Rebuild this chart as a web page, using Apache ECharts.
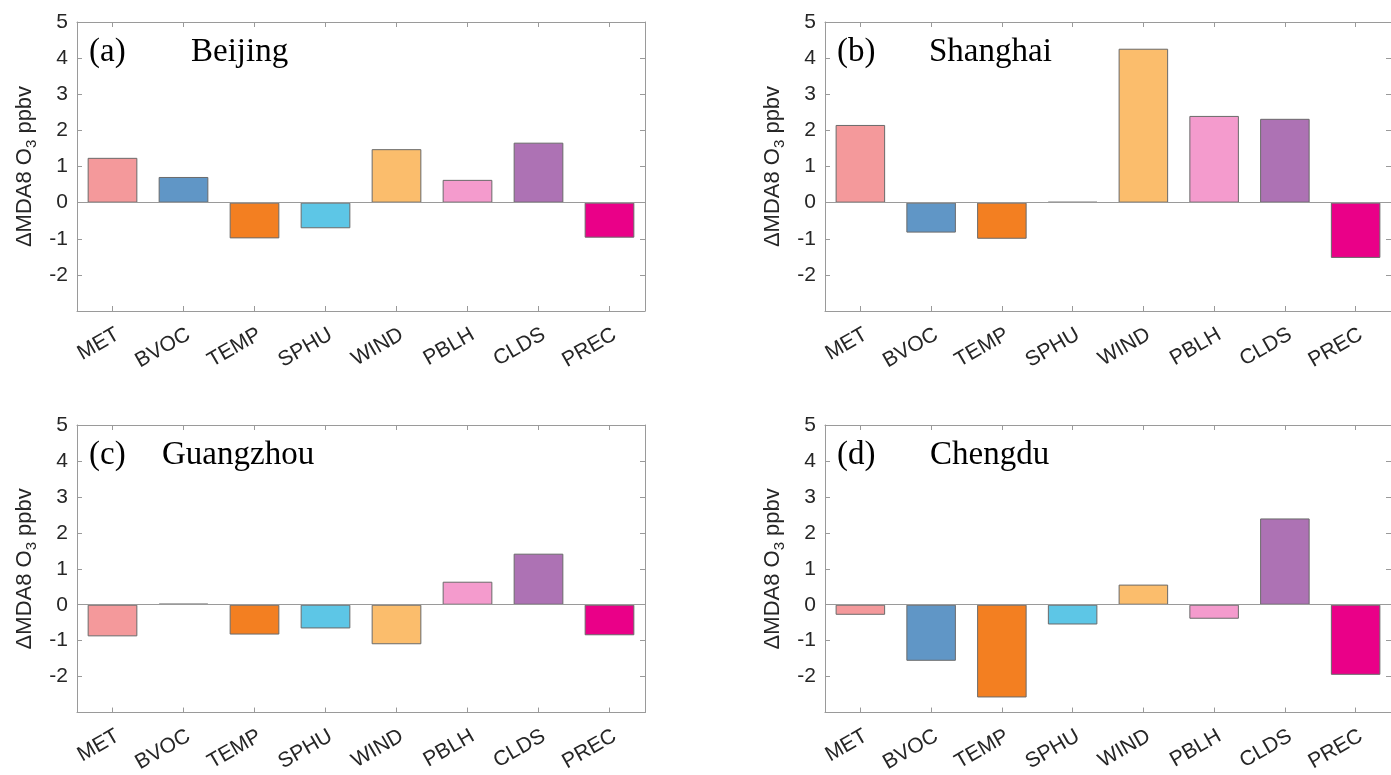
<!DOCTYPE html>
<html>
<head>
<meta charset="utf-8">
<script src="https://cdn.jsdelivr.net/npm/echarts@6/dist/echarts.min.js"></script>
<style>
  html, body { margin: 0; padding: 0; background: #fff; }
  #main { width: 1391px; height: 775px; }
</style>
</head>
<body>
<div id="main"></div>
<script>
// 数据
var categories = ['MET', 'BVOC', 'TEMP', 'SPHU', 'WIND', 'PBLH', 'CLDS', 'PREC'];
var barColors = ['#F4999B', '#6096C6', '#F37F21', '#5DC6E6', '#FBBD6C', '#F49BCD', '#AD72B4', '#EA0088'];

var beijing   = [1.24, 0.71, -0.99, -0.71, 1.48, 0.63, 1.66, -0.97];
var shanghai  = [2.15, -0.83, -1.00, 0.02, 4.26, 2.40, 2.32, -1.53];
var guangzhou = [-0.88, 0.03, -0.83, -0.66, -1.10, 0.64, 1.42, -0.85];
var chengdu   = [-0.28, -1.56, -2.58, -0.55, 0.56, -0.39, 2.40, -1.95];

var yTicks = [-3, -2, -1, 0, 1, 2, 3, 4, 5];

var panels = [
    { tag: '(a)', city: 'Beijing',   values: beijing },
    { tag: '(b)', city: 'Shanghai',  values: shanghai },
    { tag: '(c)', city: 'Guangzhou', values: guangzhou },
    { tag: '(d)', city: 'Chengdu',   values: chengdu }
];

// 布局
var gridPos = [
    { left: 77,  top: 22,  width: 568, height: 289 },
    { left: 825, top: 22,  width: 568, height: 289 },
    { left: 77,  top: 425, width: 568, height: 289 },
    { left: 825, top: 425, width: 568, height: 289 }
];
var tagPos  = [[89, 36], [837, 36], [89, 439], [837, 439]];
var cityPos = [[191, 36], [929, 36], [162, 439], [930, 439]];

var axisColor = '#9a9a9a';
var textColor = '#262626';
var sansFont = 'Liberation Sans, Arial, sans-serif';
var serifFont = 'Liberation Serif, Times New Roman, serif';

var myChart = echarts.init(document.getElementById('main'));

var option = {
    backgroundColor: '#fff',
    animation: false,
    title: [],
    grid: [],
    xAxis: [],
    yAxis: [],
    series: []
};

panels.forEach(function (p, i) {
    option.title.push({
        text: p.tag, left: tagPos[i][0], top: tagPos[i][1], padding: 0,
        textStyle: { fontFamily: serifFont, fontSize: 33, fontWeight: 'normal', color: '#000' }
    });
    option.title.push({
        text: p.city, left: cityPos[i][0], top: cityPos[i][1], padding: 0,
        textStyle: { fontFamily: serifFont, fontSize: 33, fontWeight: 'normal', color: '#000' }
    });

    option.grid.push(gridPos[i]);

    // 下方x轴
    option.xAxis.push({
        type: 'category', gridIndex: i, position: 'bottom', data: categories,
        axisLine: { onZero: false, lineStyle: { color: axisColor, width: 1 } },
        axisTick: { show: true, inside: true, alignWithLabel: true, interval: 0, length: 5, lineStyle: { color: axisColor } },
        axisLabel: {
            rotate: 30, margin: 13, fontSize: 21, fontFamily: sansFont, color: textColor,
            interval: 0, align: 'right', verticalAlign: 'top'
        }
    });
    // 上方x轴（只画框和刻度）
    option.xAxis.push({
        type: 'category', gridIndex: i, position: 'top', data: categories,
        axisLine: { onZero: false, lineStyle: { color: axisColor, width: 1 } },
        axisTick: { show: true, inside: true, alignWithLabel: true, interval: 0, length: 5, lineStyle: { color: axisColor } },
        axisLabel: { show: false, interval: 0 }
    });

    option.yAxis.push({
        type: 'value', gridIndex: i, position: 'left',
        min: yTicks[0], max: yTicks[yTicks.length - 1], interval: 1,
        name: '{t|ΔMDA8 O}{s|3}{t| ppbv}',
        nameLocation: 'middle', nameGap: 38,
        nameTextStyle: {
            rich: {
                t: { fontSize: 22, lineHeight: 28, fontFamily: sansFont, color: textColor },
                s: { fontSize: 15, lineHeight: 15, fontFamily: sansFont, color: textColor, verticalAlign: 'bottom' }
            }
        },
        splitLine: { show: false },
        axisLine: { show: true, onZero: false, lineStyle: { color: axisColor, width: 1 } },
        axisTick: { show: true, inside: true, length: 5, lineStyle: { color: axisColor } },
        axisLabel: {
            margin: 9, fontSize: 21, fontFamily: sansFont, color: textColor,
            formatter: function (v) { return v === yTicks[0] ? '' : String(v); }
        }
    });
    option.yAxis.push({
        type: 'value', gridIndex: i, position: 'right',
        min: yTicks[0], max: yTicks[yTicks.length - 1], interval: 1,
        splitLine: { show: false },
        axisLine: { show: true, onZero: false, lineStyle: { color: axisColor, width: 1 } },
        axisTick: { show: true, inside: true, length: 5, lineStyle: { color: axisColor } },
        axisLabel: { show: false }
    });

    option.series.push({
        type: 'bar',
        xAxisIndex: i * 2,
        yAxisIndex: i * 2,
        barWidth: '70%',
        data: p.values.map(function (v, k) {
            return { value: v, itemStyle: { color: barColors[k] } };
        }),
        itemStyle: { borderColor: '#6a6a6a', borderWidth: 1 },
        markLine: {
            silent: true,
            symbol: ['none', 'none'],
            label: { show: false },
            lineStyle: { color: axisColor, width: 1, type: 'solid' },
            data: [{ yAxis: 0 }]
        }
    });
});

myChart.setOption(option);
</script>
</body>
</html>
